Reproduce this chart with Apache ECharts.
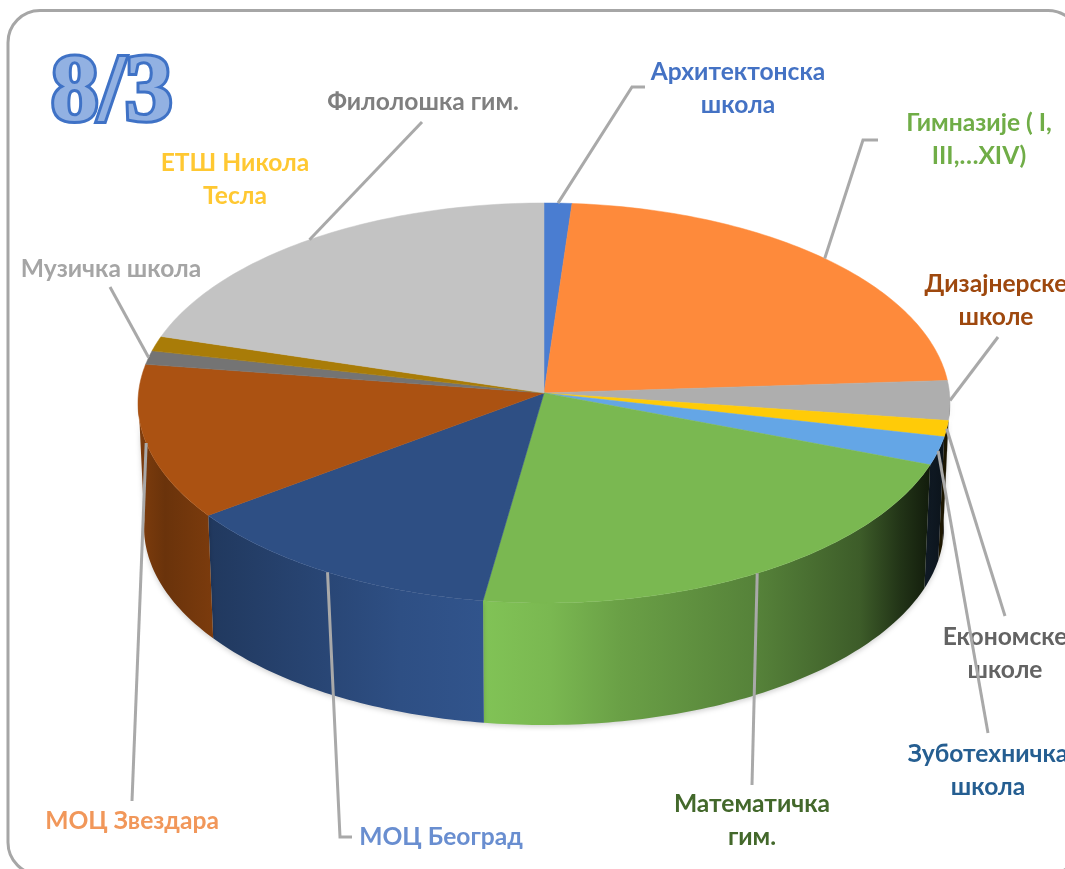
<!DOCTYPE html>
<html><head><meta charset="utf-8">
<style>html,body{margin:0;padding:0;background:#fff}#c{width:1065px;height:869px}</style>
<script src="https://cdn.jsdelivr.net/npm/echarts@6/dist/echarts.min.js"></script>
</head><body><div id="c"></div>
<script>
// ---- data ----
const categories = ['Архитектонска\nшкола','Гимназије ( I,\nIII,…XIV)','Дизајнерске\nшколе','Економске\nшколе','Зуботехничка\nшкола','Математичка\nгим.','МОЦ Београд','МОЦ Звездара','Музичка школа','ЕТШ Никола\nТесла','Филолошка гим.'];
const values = [1.1,22.1,3.2,1.3,2.3,22.4,13.1,12.6,1.1,1.2,19.6];
// ---- styles ----
const sliceColors = ['#4a7dd1','#fe8a3b','#aeaeae','#ffcb08','#64a6e6','#7ab851','#2e4f84','#ab5212','#747474','#a97c08','#c3c3c3'];
const labelColors = ['#4472c4','#70ad47','#9e480e','#636363','#255e91','#43682b','#698ed0','#f1975a','#a5a5a5','#ffc832','#7f7f7f'];
// ---- layout ----
const apex = [544,393];
const topE = {cx:544,cy:403,rx:406,ry:200};
const botE = {cx:544,cy:527,rx:400,ry:198};
const labelCenters = [[738,89],[979,140],[996,301],[1005,654],[988,771],[752,821],[441,837],[132,821],[111,269],[235,180],[423,102]];
const leaderPaths = [[[632,87],[645,87]],[[863,140],[878,140]],[[998,337]],[[1005,616]],[[988,733]],[[752,785]],[[340,837],[352,837]],[[132,801]],[[110,287]],null,[[422,122]]];
const wallShade = [[138,.74],[165,.62],[212,.72],[300,.85],[400,1],[483,1.06],[550,1.0],[620,.87],[760,.7],[860,.5],[900,.28],[930,.15],[950,.1]];
const FONT = 'Lato, "Open Sans", "Noto Sans", sans-serif';

const total = values.reduce((a,b)=>a+b,0);
const cumulative = []; values.reduce((s,v,i)=>(cumulative[i]=s,s+v),0);
const deg = (i)=>cumulative[i]/total*360;
const pt = (e,t)=>{const r=t*Math.PI/180;return [e.cx+e.rx*Math.sin(r),e.cy-e.ry*Math.cos(r)];};
const arc = (e,a,b)=>{const p=[];const n=Math.max(2,Math.ceil(Math.abs(b-a)));for(let k=0;k<=n;k++)p.push(pt(e,a+(b-a)*k/n));return p;};
const shade = (hex,f)=>{const n=parseInt(hex.slice(1),16);const c=[n>>16,(n>>8)&255,n&255].map(v=>Math.min(255,Math.round(v*f)));return `rgb(${c.join(',')})`;};
const xMin=wallShade[0][0], xMax=wallShade[wallShade.length-1][0];
const wallFill = (hex)=>({type:'linear',x:xMin,y:0,x2:xMax,y2:0,global:true,colorStops:wallShade.map(s=>({offset:(s[0]-xMin)/(xMax-xMin),color:shade(hex,s[1])}))});

const seriesData = values.map((v,i)=>({name:categories[i],value:v}));

function renderWall(params,api){
  const i=params.dataIndex, a=Math.max(deg(i),88), b=Math.min(deg(i)+api.value(0)/total*360,272);
  if(b<=a) return null;
  const points=arc(topE,a,b).concat(arc(botE,b,a));
  return {type:'polygon',shape:{points},style:{fill:wallFill(sliceColors[i]),shadowBlur:5,shadowColor:'rgba(0,0,0,.18)',shadowOffsetY:2}};
}
function renderTop(params,api){
  const i=params.dataIndex, a=deg(i), b=a+api.value(0)/total*360;
  return {type:'polygon',shape:{points:[apex].concat(arc(topE,a,b))},style:{fill:sliceColors[i],stroke:sliceColors[i],lineWidth:.5}};
}
function renderCallout(params,api){
  const i=params.dataIndex, mid=deg(i)+api.value(0)/total*180, children=[];
  if(leaderPaths[i]) children.push({type:'polyline',shape:{points:[pt(topE,mid)].concat(leaderPaths[i])},style:{stroke:'#a9a9a9',lineWidth:3,fill:null}});
  children.push({type:'text',style:{text:categories[i],x:labelCenters[i][0],y:labelCenters[i][1],align:'center',verticalAlign:'middle',font:'bold 24.6px '+FONT,lineHeight:33,fill:labelColors[i]}});
  return {type:'group',children};
}
const chart=echarts.init(document.getElementById('c'),null,{renderer:'canvas'});
chart.setOption({
  animation:false,backgroundColor:'#fff',tooltip:{show:false},
  graphic:[
    {type:'rect',z:0,shape:{x:8,y:10.5,width:1072,height:864,r:32},style:{fill:'#fff',stroke:'#a6a6a6',lineWidth:3}},
    {type:'text',z:5,x:51,y:48,style:{text:'8/3',font:'bold 95px "Liberation Serif", serif',fill:'#92b1e2',stroke:'#3f72c6',lineWidth:6,verticalAlign:'top'}}
  ],
  series:[
    {type:'custom',coordinateSystem:'none',z:2,silent:true,data:seriesData,renderItem:renderWall},
    {type:'custom',coordinateSystem:'none',z:3,silent:true,data:seriesData,renderItem:renderTop},
    {type:'custom',coordinateSystem:'none',z:4,silent:true,data:seriesData,renderItem:renderCallout}
  ]
});
</script></body></html>
